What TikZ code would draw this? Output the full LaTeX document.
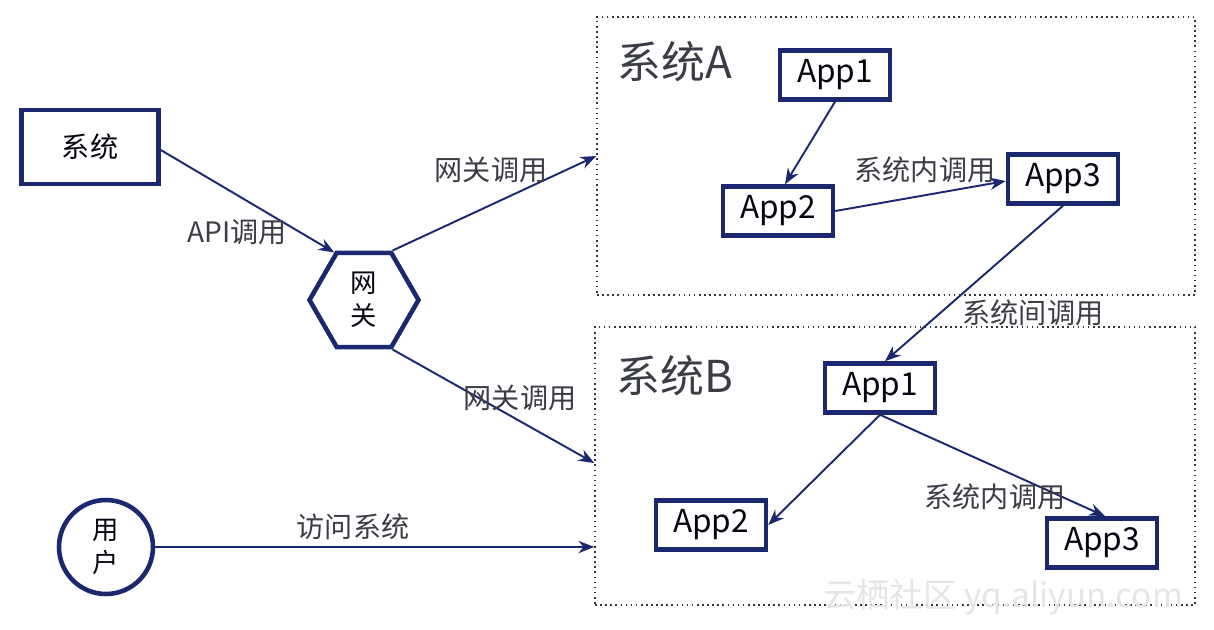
\documentclass[tikz,border=0pt]{standalone}
\usepackage{fontspec}
\setmainfont{Noto Sans CJK SC}
\usetikzlibrary{arrows.meta,shapes.geometric,calc}
\definecolor{navy}{HTML}{1B2870}
\definecolor{lbl}{HTML}{3A3D45}
\begin{document}
\begin{tikzpicture}[x=0.02cm,y=-0.02cm,
  appbox/.style={draw=navy,line width=2.6pt,minimum width=2.2cm,minimum height=0.98cm,inner sep=0pt,text=black!85!navy,font=\fontsize{18}{20}\selectfont},
  conn/.style={draw=navy,line width=1.1pt,-{Stealth[length=9pt,width=7pt]}},
  lab/.style={text=lbl,font=\fontsize{16}{18}\selectfont,inner sep=1pt},
  sysbox/.style={draw=black!80,dotted,line width=0.9pt,minimum width=11.96cm,minimum height=5.56cm,inner sep=0pt},
  title/.style={text=lbl,font=\fontsize{25}{28}\selectfont,inner sep=0pt}]
\useasboundingbox (0,0) rectangle (1214,629);
\fill[white] (0,0) rectangle (1214,629);

% system containers
\node[sysbox] (sysA) at (896,156) {};
\node[sysbox,minimum width=12.0cm] (sysB) at (895,466) {};
\node[title] (tA) at (675,62) {系统A};
\node[title] (tB) at (675,376) {系统B};

% left side
\node[draw=navy,line width=2.6pt,minimum width=2.74cm,minimum height=1.48cm,inner sep=0pt,font=\fontsize{16}{18}\selectfont,text=black!85!navy] (sys) at (90,147) {系统};
\node[draw=navy,line width=2.6pt,regular polygon,regular polygon sides=6,minimum size=2.18cm,inner sep=0pt,align=center,font=\fontsize{15}{19}\selectfont,text=black!85!navy] (gw) at (364,300) {网\\关};
\node[draw=navy,line width=2.6pt,circle,minimum size=1.88cm,inner sep=0pt,align=center,font=\fontsize{15}{19}\selectfont,text=black!85!navy] (user) at (106,547) {用\\户};

% apps in A
\node[appbox] (a1) at (835,75) {App1};
\node[appbox] (a2) at (778,211) {App2};
\node[appbox] (a3) at (1063,179) {App3};
% apps in B
\node[appbox] (b1) at (880,388) {App1};
\node[appbox] (b2) at (711,525) {App2};
\node[appbox] (b3) at (1102,543) {App3};

% connectors
\draw[conn] (sys.east) ++(0,3) coordinate (s0) (s0) -- (gw.122);
\draw[conn] (gw.60) -- (sysA.west);
\draw[conn] (gw.-60) -- ($(sysB.west)+(0,-3)$) coordinate (bw);
\draw[conn] (user.east) -- (user -| sysB.west);
\draw[conn] (a1.south) -- ($(a2.north)+(7,0)$);
\draw[conn] (a2.east) -- ($(a3.west)+(0,2)$);
\draw[conn] (a3.south) -- ($(b1.north)+(5,0)$);
\draw[conn] (b1.south) -- (b2.east);
\draw[conn] (b1.south) -- ($(b3.north)+(3,0)$);

% labels
\node[lab] (l1) at (237,232) {API调用};
\node[lab] (l2) at (491,170) {网关调用};
\node[lab] (l3) at (520,398) {网关调用};
\node[lab] (l4) at (925,170) {系统内调用};
\node[lab] (l5) at (1033,313) {系统间调用};
\node[lab] (l6) at (995,497) {系统内调用};
\node[lab] (l7) at (353,527) {访问系统};

% watermark
\node[text=black!10,font=\fontsize{19}{21}\selectfont,inner sep=0pt] (wm) at (1003,597) {云栖社区 yq.aliyun.com};
\end{tikzpicture}
\end{document}
